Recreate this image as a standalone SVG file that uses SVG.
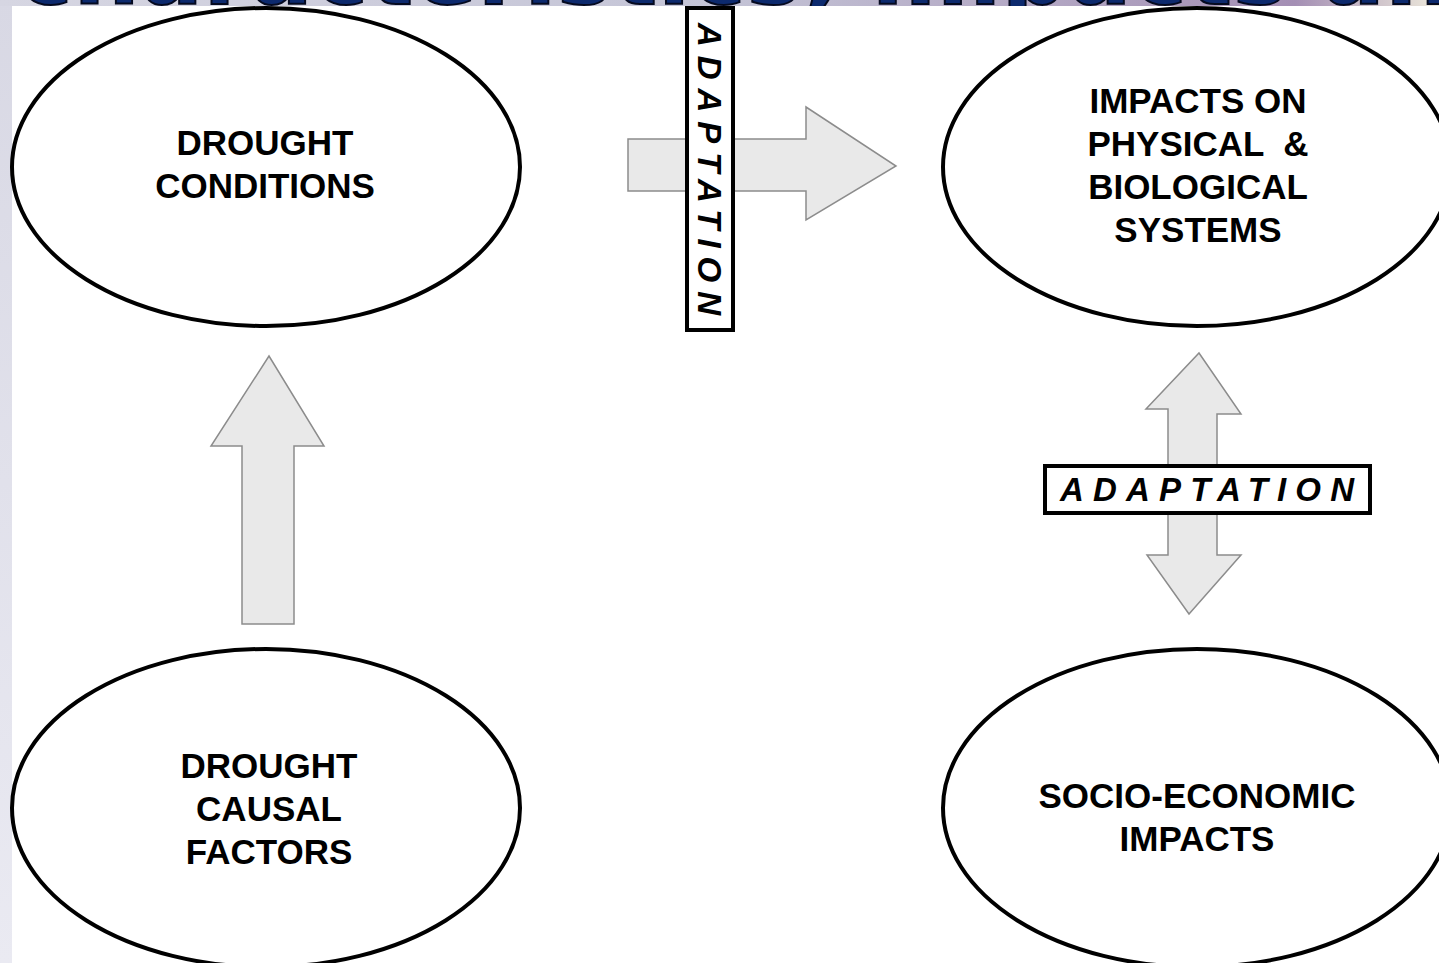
<svg xmlns="http://www.w3.org/2000/svg" width="1439" height="963" viewBox="0 0 1439 963">
<defs>
<linearGradient id="bgtop" x1="0" y1="0" x2="1" y2="0">
<stop offset="0" stop-color="#d6d6e2"/>
<stop offset="0.5" stop-color="#c4c4d6"/>
<stop offset="0.9" stop-color="#a48fb4"/>
<stop offset="1" stop-color="#eeeadc"/>
</linearGradient>
<linearGradient id="bgleft" x1="0" y1="0" x2="0" y2="1">
<stop offset="0" stop-color="#d8d8e4"/>
<stop offset="1" stop-color="#eaeaf2"/>
</linearGradient>
<clipPath id="topclip"><rect x="0" y="0" width="1439" height="6"/></clipPath>
</defs>
<style>
.node{fill:#ffffff;stroke:#000000;stroke-width:4}
.lbl{font-family:"Liberation Sans",Arial,sans-serif;font-weight:bold;font-size:35px;fill:#000;text-anchor:middle}
.arrow{fill:#e9e9e9;stroke:#8c8c8c;stroke-width:1.5;stroke-linejoin:miter}
.box{fill:#ffffff;stroke:#000;stroke-width:4}
.adapt{font-family:"Liberation Sans",Arial,sans-serif;font-weight:bold;font-style:italic;font-size:33px;fill:#000;text-anchor:middle}
.title{font-family:"DejaVu Sans",Verdana,sans-serif;font-weight:bold;font-size:92px;fill:#0d2a6e;stroke:#050a20;stroke-width:2}
</style>
<rect x="0" y="0" width="1439" height="963" fill="url(#bgleft)"/>
<rect x="0" y="0" width="1439" height="6" fill="url(#bgtop)"/>
<g clip-path="url(#topclip)">
<text class="title" x="18" y="4" textLength="1500" lengthAdjust="spacing">characteristics, impacts and</text>
</g>
<rect x="12" y="6" width="1427" height="957" fill="#ffffff"/>

<g id="connectors">
<polygon class="arrow" points="242,624 242,446 211,446 269,356 324,446 294,446 294,624"/>
<polygon class="arrow" points="628,139 806,139 806,107 896,166 806,220 806,191 628,191"/>
<polygon class="arrow" points="1168,555 1168,409 1146,409 1199,353 1241,414 1217,414 1217,555 1241,555 1189,614 1147,555"/>
</g>

<g id="adaptation-vertical">
<rect class="box" x="687" y="8" width="46" height="322"/>
<text class="adapt" transform="translate(710,169) rotate(90)" x="0" y="12" textLength="292" lengthAdjust="spacing">ADAPTATION</text>
</g>

<g id="adaptation-horizontal">
<rect class="box" x="1045" y="466" width="325" height="47"/>
<text class="adapt" x="1207" y="501" textLength="294" lengthAdjust="spacing">ADAPTATION</text>
</g>

<g id="drought-conditions">
<ellipse class="node" cx="266" cy="167" rx="254" ry="159"/>
<text class="lbl" x="265" y="155">DROUGHT</text>
<text class="lbl" x="265" y="198">CONDITIONS</text>
</g>

<g id="impacts-physical">
<ellipse class="node" cx="1197" cy="167" rx="254" ry="159"/>
<text class="lbl" x="1198" y="113">IMPACTS ON</text>
<text class="lbl" x="1198" y="156" xml:space="preserve">PHYSICAL  &amp;</text>
<text class="lbl" x="1198" y="199">BIOLOGICAL</text>
<text class="lbl" x="1198" y="242">SYSTEMS</text>
</g>

<g id="drought-causal">
<ellipse class="node" cx="266" cy="808" rx="254" ry="159"/>
<text class="lbl" x="269" y="778">DROUGHT</text>
<text class="lbl" x="269" y="821">CAUSAL</text>
<text class="lbl" x="269" y="864">FACTORS</text>
</g>

<g id="socio-economic">
<ellipse class="node" cx="1197" cy="808" rx="254" ry="159"/>
<text class="lbl" x="1197" y="808">SOCIO-ECONOMIC</text>
<text class="lbl" x="1197" y="851">IMPACTS</text>
</g>
</svg>
